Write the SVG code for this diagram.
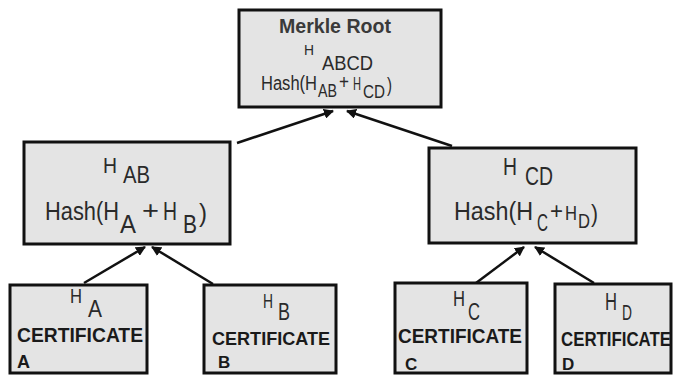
<svg xmlns="http://www.w3.org/2000/svg" width="675" height="376" viewBox="0 0 675 376">
<style>
.box{fill:#e4e4e4;stroke:#111;stroke-width:3}
.t{font-family:"Liberation Sans",Arial,sans-serif;fill:#2a2a2a}
.b{font-weight:bold;fill:#3a3a3a}
.c{font-family:"Liberation Sans",Arial,sans-serif;font-weight:bold;fill:#1a1a1a}
.edge{stroke:#111;stroke-width:2.5;fill:none;marker-end:url(#ah)}
</style>
<defs>
<marker id="ah" viewBox="0 0 10 10" refX="9" refY="5" markerWidth="4" markerHeight="4" orient="auto" markerUnits="strokeWidth">
<path d="M0,0 L10,5 L0,10 z" fill="#111"/>
</marker>
</defs>
<rect width="675" height="376" fill="#fff"/>
<g id="edges">
<line class="edge" x1="237" y1="143" x2="333" y2="111"/>
<line class="edge" x1="452" y1="146" x2="347" y2="111"/>
<line class="edge" x1="84" y1="283" x2="145" y2="247"/>
<line class="edge" x1="213" y1="284" x2="152" y2="247"/>
<line class="edge" x1="476" y1="283" x2="524" y2="247"/>
<line class="edge" x1="594" y1="283" x2="535" y2="247"/>
</g>
<g id="root">
<rect class="box" x="239" y="10" width="202" height="97"/>
<text class="t b" x="279" y="33" font-size="20" textLength="112" lengthAdjust="spacingAndGlyphs">Merkle Root</text>
<text class="t" x="304" y="55" font-size="14" textLength="10" lengthAdjust="spacingAndGlyphs">H</text>
<text class="t" x="322" y="70" font-size="20" textLength="51" lengthAdjust="spacingAndGlyphs">ABCD</text>
<text class="t" x="261" y="90" font-size="20" textLength="56" lengthAdjust="spacingAndGlyphs">Hash(H</text>
<text class="t" x="318" y="97" font-size="19" textLength="19" lengthAdjust="spacingAndGlyphs">AB</text>
<text class="t" x="339" y="89" font-size="20" textLength="10" lengthAdjust="spacingAndGlyphs">+</text>
<text class="t" x="353" y="90" font-size="18" textLength="8" lengthAdjust="spacingAndGlyphs">H</text>
<text class="t" x="363" y="98" font-size="19" textLength="22" lengthAdjust="spacingAndGlyphs">CD</text>
<text class="t" x="387" y="92" font-size="20" textLength="5" lengthAdjust="spacingAndGlyphs">)</text>
</g>
<g id="hab">
<rect class="box" x="24" y="142" width="206" height="102"/>
<text class="t" x="103" y="173" font-size="22" textLength="14" lengthAdjust="spacingAndGlyphs">H</text>
<text class="t" x="123" y="183" font-size="24" textLength="27" lengthAdjust="spacingAndGlyphs">AB</text>
<text class="t" x="45" y="220" font-size="25" textLength="74" lengthAdjust="spacingAndGlyphs">Hash(H</text>
<text class="t" x="120" y="233" font-size="25" textLength="16" lengthAdjust="spacingAndGlyphs">A</text>
<text class="t" x="142" y="219" font-size="25" textLength="17" lengthAdjust="spacingAndGlyphs">+</text>
<text class="t" x="163" y="220" font-size="25" textLength="14" lengthAdjust="spacingAndGlyphs">H</text>
<text class="t" x="183" y="233" font-size="25" textLength="14" lengthAdjust="spacingAndGlyphs">B</text>
<text class="t" x="199" y="222" font-size="25" textLength="8" lengthAdjust="spacingAndGlyphs">)</text>
</g>
<g id="hcd">
<rect class="box" x="429" y="148" width="207" height="95"/>
<text class="t" x="503" y="175" font-size="23" textLength="14" lengthAdjust="spacingAndGlyphs">H</text>
<text class="t" x="525" y="185" font-size="25" textLength="28" lengthAdjust="spacingAndGlyphs">CD</text>
<text class="t" x="454" y="220" font-size="25" textLength="79" lengthAdjust="spacingAndGlyphs">Hash(H</text>
<text class="t" x="537" y="231" font-size="23" textLength="11" lengthAdjust="spacingAndGlyphs">C</text>
<text class="t" x="550" y="219" font-size="23" textLength="13" lengthAdjust="spacingAndGlyphs">+</text>
<text class="t" x="565" y="220" font-size="21" textLength="12" lengthAdjust="spacingAndGlyphs">H</text>
<text class="t" x="578" y="228" font-size="21" textLength="12" lengthAdjust="spacingAndGlyphs">D</text>
<text class="t" x="591" y="222" font-size="23" textLength="7" lengthAdjust="spacingAndGlyphs">)</text>
</g>
<g id="certA">
<rect class="box" x="10" y="285" width="137" height="88"/>
<text class="t" x="70" y="303" font-size="20" textLength="12" lengthAdjust="spacingAndGlyphs">H</text>
<text class="t" x="88" y="317" font-size="24" textLength="14" lengthAdjust="spacingAndGlyphs">A</text>
<text class="c" x="17" y="342" font-size="20" textLength="126" lengthAdjust="spacingAndGlyphs">CERTIFICATE</text>
<text class="c" x="17" y="368" font-size="18">A</text>
</g>
<g id="certB">
<rect class="box" x="204" y="285" width="132" height="88"/>
<text class="t" x="263" y="308" font-size="20" textLength="10" lengthAdjust="spacingAndGlyphs">H</text>
<text class="t" x="278" y="320" font-size="24" textLength="12" lengthAdjust="spacingAndGlyphs">B</text>
<text class="c" x="212" y="345" font-size="19" textLength="118" lengthAdjust="spacingAndGlyphs">CERTIFICATE</text>
<text class="c" x="218" y="368" font-size="17">B</text>
</g>
<g id="certC">
<rect class="box" x="395" y="283" width="132" height="90"/>
<text class="t" x="453" y="306" font-size="22" textLength="12" lengthAdjust="spacingAndGlyphs">H</text>
<text class="t" x="468" y="320" font-size="23" textLength="12" lengthAdjust="spacingAndGlyphs">C</text>
<text class="c" x="398" y="343" font-size="20" textLength="124" lengthAdjust="spacingAndGlyphs">CERTIFICATE</text>
<text class="c" x="405" y="370" font-size="17">C</text>
</g>
<g id="certD">
<rect class="box" x="555" y="284" width="116" height="89"/>
<text class="t" x="605" y="310" font-size="23" textLength="12" lengthAdjust="spacingAndGlyphs">H</text>
<text class="t" x="622" y="320" font-size="22" textLength="10" lengthAdjust="spacingAndGlyphs">D</text>
<text class="c" x="561" y="346" font-size="20" textLength="110" lengthAdjust="spacingAndGlyphs">CERTIFICATE</text>
<text class="c" x="562" y="370" font-size="17">D</text>
</g>
</svg>
